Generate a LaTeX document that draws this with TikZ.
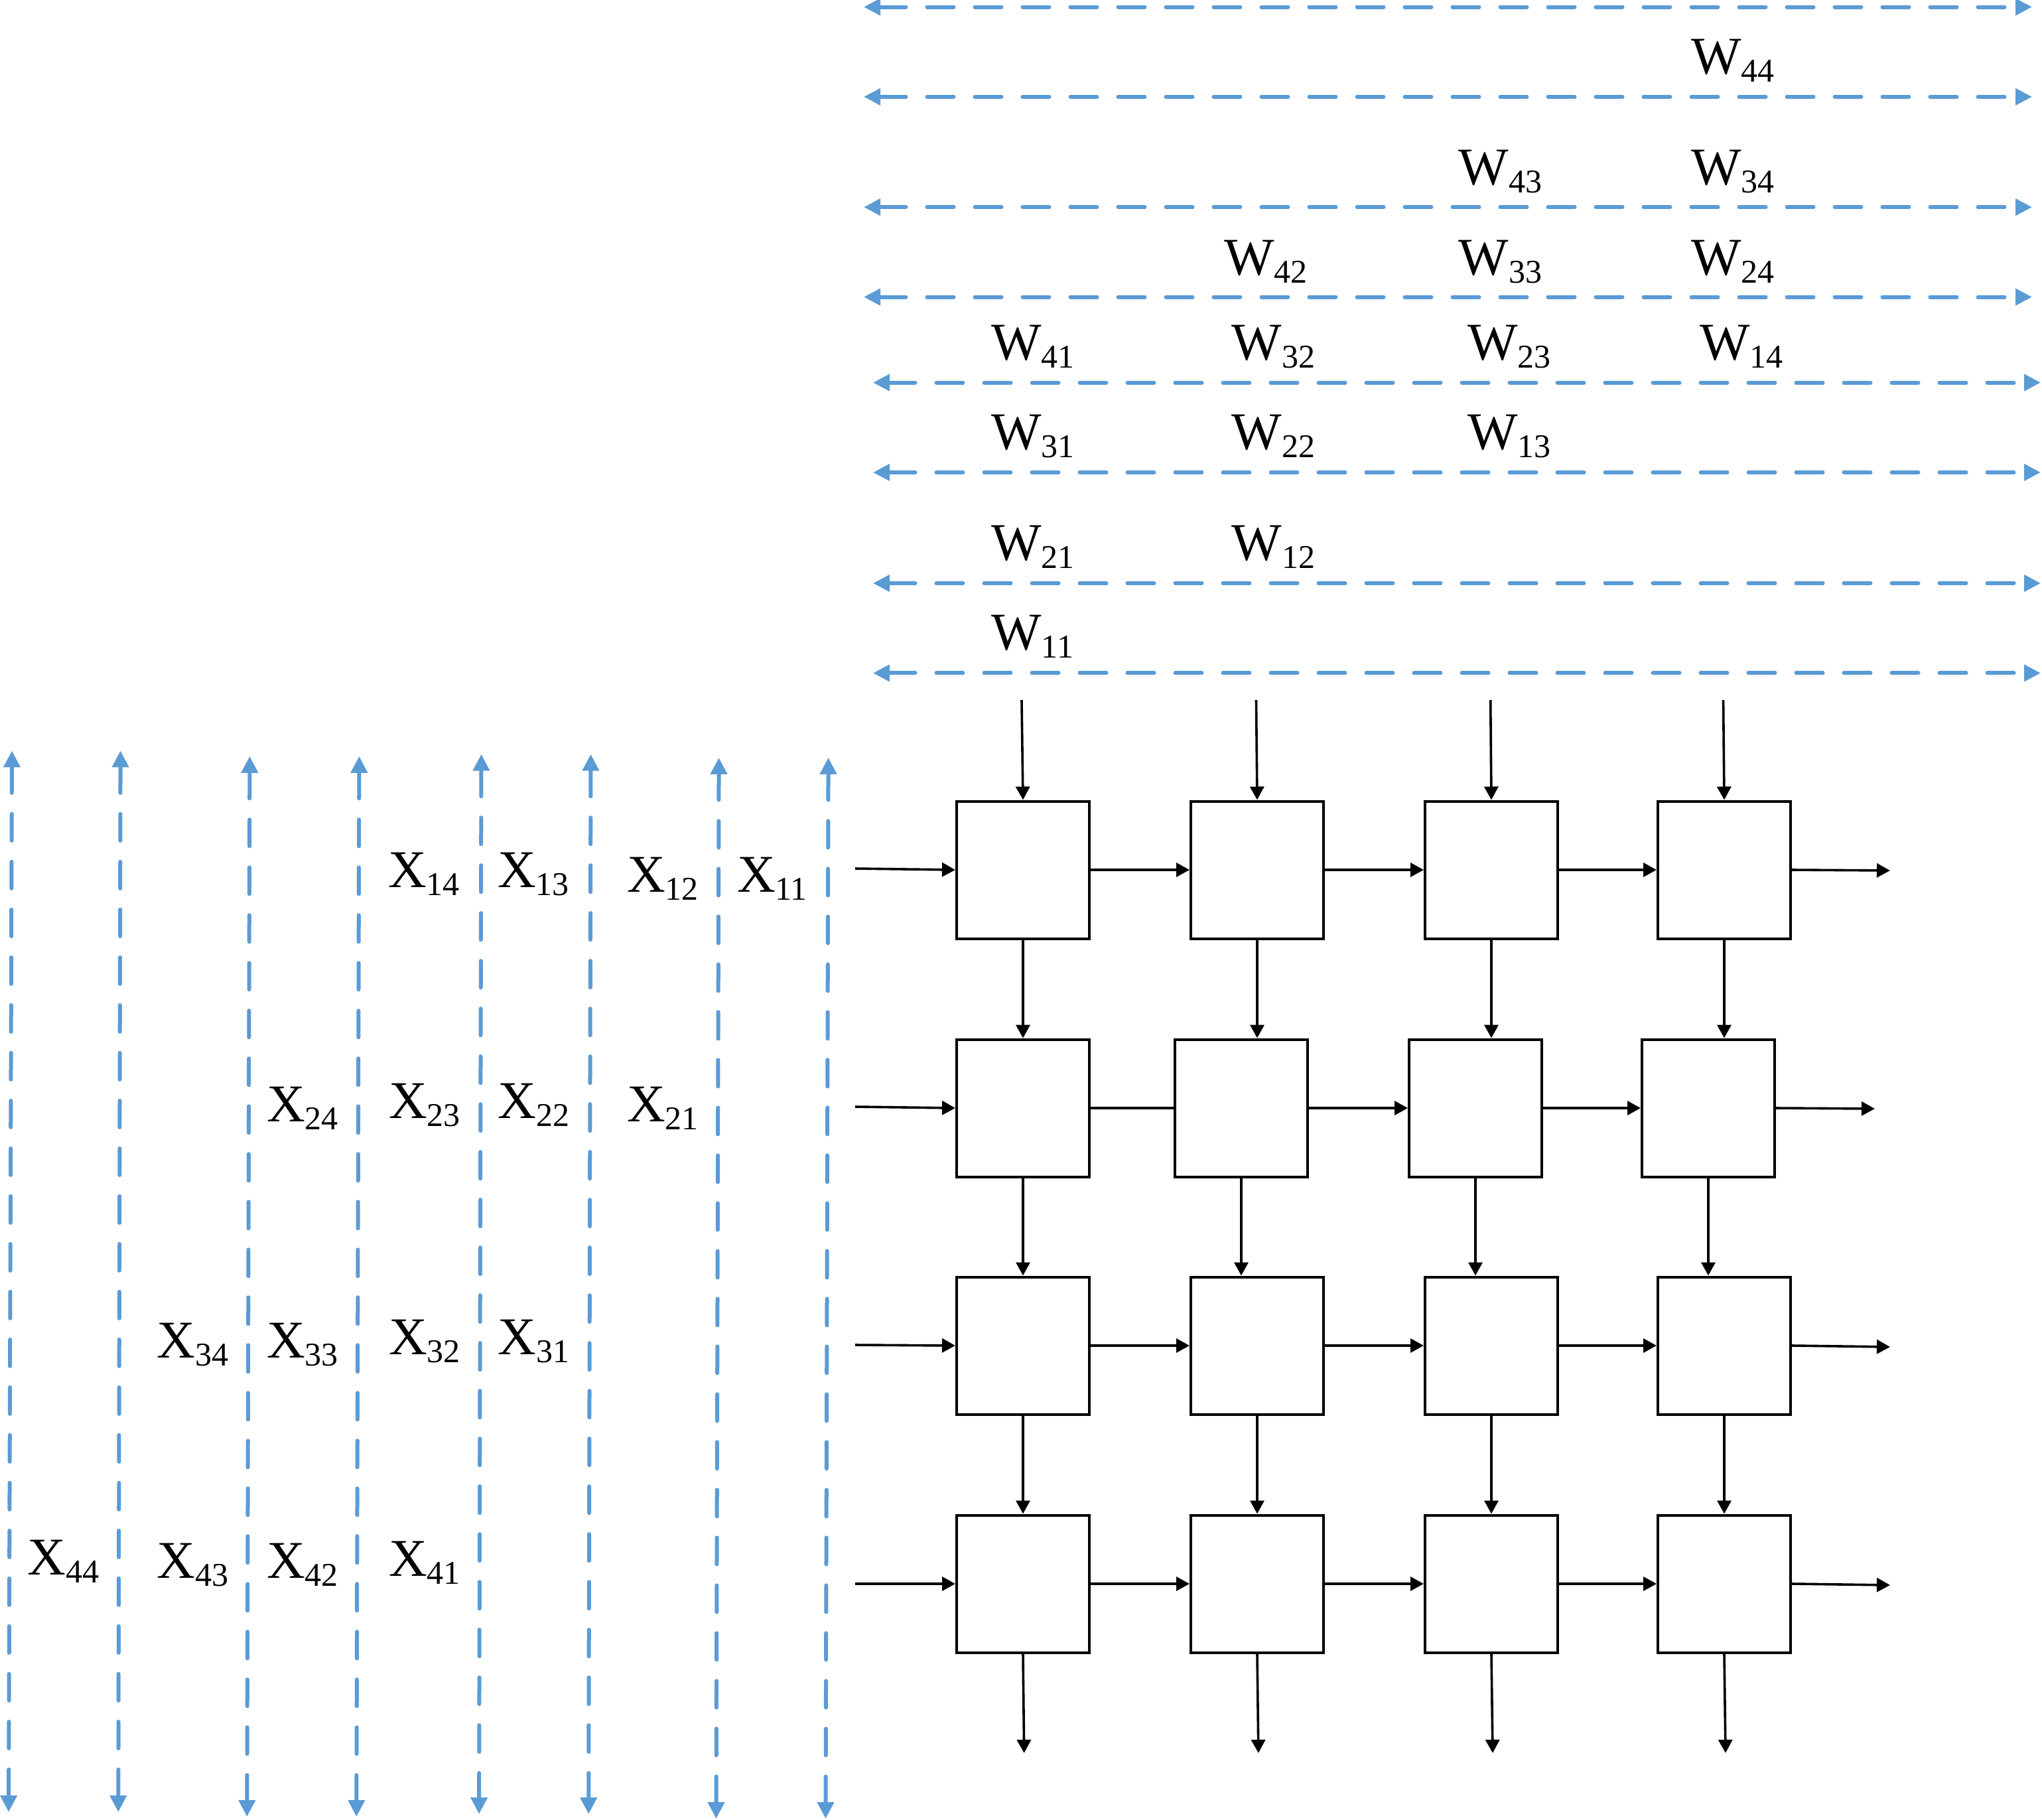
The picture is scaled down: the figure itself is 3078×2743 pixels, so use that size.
\documentclass[tikz,border=0pt]{standalone}
\usepackage{fontspec}
\setmainfont{Liberation Serif}
\usetikzlibrary{arrows.meta}
\definecolor{flowblue}{RGB}{91,155,213}
\newcommand{\lbl}[2]{{\fontsize{20}{24}\selectfont #1}\raisebox{-3pt}{\fontsize{12.5}{15}\selectfont #2}}
\begin{document}
\begin{tikzpicture}[x=0.25pt,y=-0.25pt,
  pe/.style={draw=black, line width=1pt, minimum width=50pt, minimum height=51.75pt, inner sep=0pt},
  flow/.style={line width=0.9pt, -{Triangle[length=5pt,width=5.25pt]}},
  link/.style={line width=0.9pt},
  bus/.style={draw=flowblue, line width=1.5pt, dash pattern=on 10pt off 8pt, line cap=round,
    {Triangle[length=6.25pt,width=6.1pt]}-{Triangle[length=6.25pt,width=6.1pt]}},
  lab/.style={anchor=base west, inner sep=0pt, outer sep=0pt}]
\useasboundingbox (0,0) rectangle (3078,2743);

% ---------- processing elements ----------
\foreach \c/\x in {1/1542,2/1895,3/2248,4/2599}{
  \node[pe] (b1\c) at (\x,1311) {};
  \node[pe] (b3\c) at (\x,2028) {};
  \node[pe] (b4\c) at (\x,2387) {};
}
\foreach \c/\x in {1/1542,2/1871,3/2224,4/2575}{
  \node[pe] (b2\c) at (\x,1670) {};
}

% ---------- free ends ----------
\coordinate (t1) at (1540,1055);
\coordinate (t2) at (1893.5,1055);
\coordinate (t3) at (2246.7,1055);
\coordinate (t4) at (2597.6,1055);
\coordinate (o1) at (1543.7,2642);
\coordinate (o2) at (1896.9,2642);
\coordinate (o3) at (2250,2642);
\coordinate (o4) at (2601,2642);
\coordinate (l1) at (1289,1309);
\coordinate (l2) at (1289,1668);
\coordinate (l3) at (1289,2027);
\coordinate (l4) at (1289,2387);
\coordinate (r1) at (2849,1312);
\coordinate (r2) at (2826,1671);
\coordinate (r3) at (2849,2030);
\coordinate (r4) at (2849,2389);

% ---------- vertical black arrows ----------
\foreach \c in {1,2,3,4}{
  \draw[flow] (t\c) -- (b1\c.north);
  \draw[flow] (b1\c.south) -- (b1\c.south |- b2\c.north);
  \draw[flow] (b2\c.south) -- (b2\c.south |- b3\c.north);
  \draw[flow] (b3\c.south) -- (b3\c.south |- b4\c.north);
  \draw[flow] (b4\c.south) -- (o\c);
}

% ---------- horizontal black arrows ----------
\foreach \r in {1,2,3,4}{
  \draw[flow] (l\r) -- (b\r1.west);
  \draw[flow] (b\r4.east) -- (r\r);
}
\foreach \r in {1,3,4}{
  \draw[flow] (b\r1.east) -- (b\r2.west);
}
\draw[link] (b21.east) -- (b22.west);
\foreach \r in {1,2,3,4}{
  \draw[flow] (b\r2.east) -- (b\r3.west);
  \draw[flow] (b\r3.east) -- (b\r4.west);
}

% ---------- horizontal blue buses ----------
\foreach \i/\y in {1/10.5,2/145.9,3/312.2,4/447.6}{
  \coordinate (hl\i) at (1302,\y);
  \coordinate (hr\i) at (3063,\y);
  \draw[bus] (hl\i) -- (hr\i);
}
\foreach \i/\y in {5/576.6,6/712,7/879,8/1014.4}{
  \coordinate (hl\i) at (1316,\y);
  \coordinate (hr\i) at (3076,\y);
  \draw[bus] (hl\i) -- (hr\i);
}

% ---------- vertical blue buses ----------
\foreach \i/\xt/\yt/\xb/\yb in {1/18/1131.4/13/2731, 2/181.6/1131.4/178.3/2731,
    3/376.4/1139.8/372.3/2738, 4/541.4/1139.8/537.3/2738,
    5/725.5/1136.7/722.1/2734, 6/890.5/1136.7/887.2/2734,
    7/1083.6/1141.9/1079.5/2741, 8/1248.6/1141.9/1244.5/2741}{
  \coordinate (vt\i) at (\xt,\yt);
  \coordinate (vb\i) at (\xb,\yb);
  \draw[bus] (vt\i) -- (vb\i);
}

% ---------- W labels ----------
\node[lab] (w44) at (2549,111) {\lbl{W}{44}};
\node[lab] (w43) at (2198.5,278) {\lbl{W}{43}};
\node[lab] (w34) at (2549,278) {\lbl{W}{34}};
\node[lab] (w42) at (1845.3,414) {\lbl{W}{42}};
\node[lab] (w33) at (2198.5,414) {\lbl{W}{33}};
\node[lab] (w24) at (2549,414) {\lbl{W}{24}};
\node[lab] (w41) at (1494.4,542) {\lbl{W}{41}};
\node[lab] (w32) at (1856.8,542) {\lbl{W}{32}};
\node[lab] (w23) at (2212.3,542) {\lbl{W}{23}};
\node[lab] (w14) at (2562,542) {\lbl{W}{14}};
\node[lab] (w31) at (1494.4,677) {\lbl{W}{31}};
\node[lab] (w22) at (1856.8,677) {\lbl{W}{22}};
\node[lab] (w13) at (2212.3,677) {\lbl{W}{13}};
\node[lab] (w21) at (1494.4,844) {\lbl{W}{21}};
\node[lab] (w12) at (1856.8,844) {\lbl{W}{12}};
\node[lab] (w11) at (1494.4,979) {\lbl{W}{11}};

% ---------- X labels ----------
\node[lab] (x14) at (585,1337) {\lbl{X}{14}};
\node[lab] (x13) at (750,1337) {\lbl{X}{13}};
\node[lab] (x12) at (945.2,1344) {\lbl{X}{12}};
\node[lab] (x11) at (1111,1344) {\lbl{X}{11}};
\node[lab] (x24) at (402.1,1690) {\lbl{X}{24}};
\node[lab] (x23) at (586.2,1685) {\lbl{X}{23}};
\node[lab] (x22) at (750.3,1685) {\lbl{X}{22}};
\node[lab] (x21) at (945.2,1690) {\lbl{X}{21}};
\node[lab] (x34) at (236.3,2046) {\lbl{X}{34}};
\node[lab] (x33) at (402.1,2046) {\lbl{X}{33}};
\node[lab] (x32) at (586.2,2041) {\lbl{X}{32}};
\node[lab] (x31) at (750.3,2041) {\lbl{X}{31}};
\node[lab] (x44) at (41.5,2373) {\lbl{X}{44}};
\node[lab] (x43) at (236.3,2378) {\lbl{X}{43}};
\node[lab] (x42) at (402.1,2378) {\lbl{X}{42}};
\node[lab] (x41) at (586.2,2375) {\lbl{X}{41}};
\end{tikzpicture}
\end{document}
